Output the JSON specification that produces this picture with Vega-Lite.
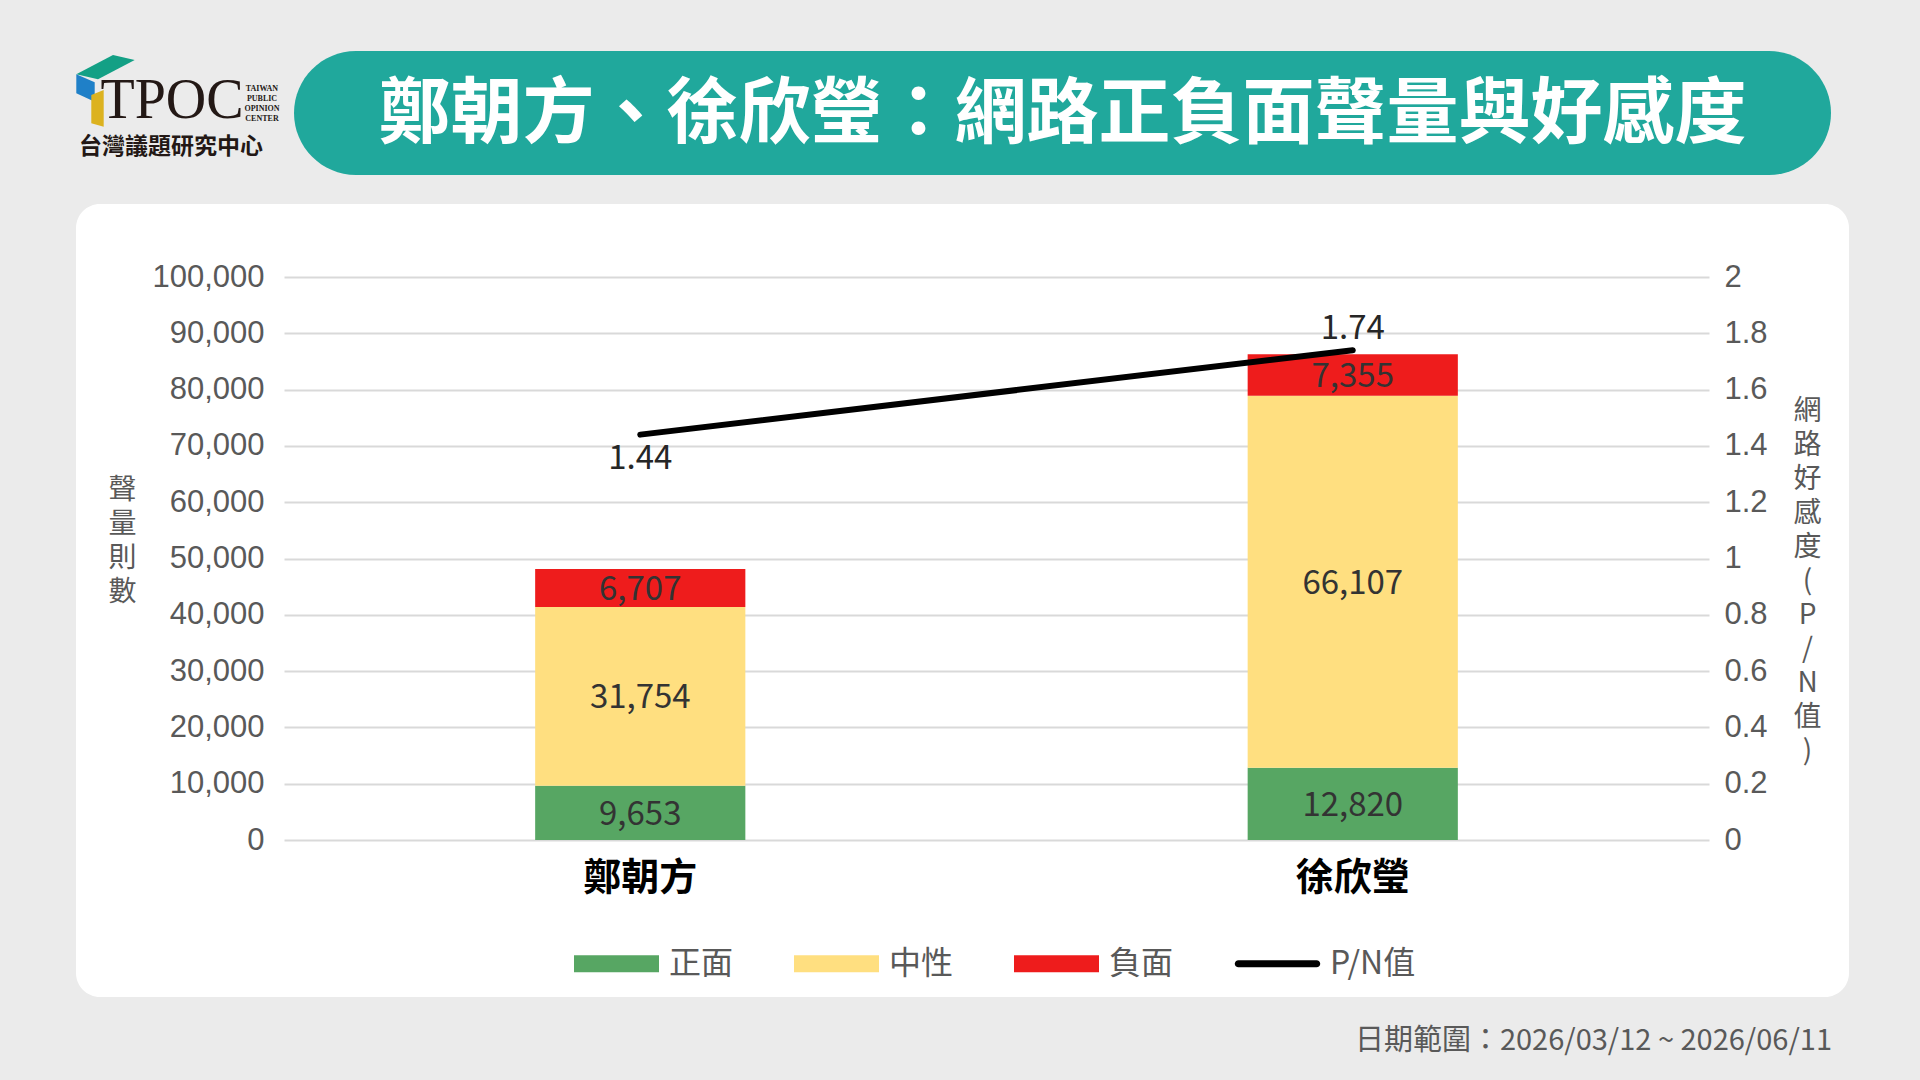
{
  "$schema": "https://vega.github.io/schema/vega-lite/v6.json",
  "background": "#ebebeb",
  "padding": {"left": 76, "top": 51, "right": 71, "bottom": 25},
  "autosize": {"type": "pad"},
  "spacing": 29,
  "datasets": {
    "bars": [
      {"name": "鄭朝方", "type": "正面", "count": 9653, "ord": 1},
      {"name": "鄭朝方", "type": "中性", "count": 31754, "ord": 2},
      {"name": "鄭朝方", "type": "負面", "count": 6707, "ord": 3},
      {"name": "徐欣瑩", "type": "正面", "count": 12820, "ord": 1},
      {"name": "徐欣瑩", "type": "中性", "count": 66107, "ord": 2},
      {"name": "徐欣瑩", "type": "負面", "count": 7355, "ord": 3}
    ],
    "pn": [
      {"name": "鄭朝方", "pn": 1.44},
      {"name": "徐欣瑩", "pn": 1.74}
    ],
    "one": [{"k": 1}]
  },
  "vconcat": [
    {
      "bounds": "flush",
      "spacing": 18,
      "hconcat": [
        {
          "width": 200,
          "height": 124,
          "view": {"stroke": null, "fill": null},
          "data": {"name": "one"},
          "layer": [
            {"mark": {"type": "point", "shape": "M-0.997,-0.387L-0.63,-0.58L-0.413,-0.53L-0.78,-0.337Z", "size": 40000, "filled": true, "color": "#13a085", "opacity": 1, "strokeWidth": 0}},
            {"mark": {"type": "point", "shape": "M-0.997,-0.387L-0.813,-0.307L-0.813,-0.113L-0.997,-0.197Z", "size": 40000, "filled": true, "color": "#1f80c8", "opacity": 1, "strokeWidth": 0}},
            {"mark": {"type": "point", "shape": "M-0.847,-0.18L-0.723,-0.23L-0.723,0.137L-0.847,0.103Z", "size": 40000, "filled": true, "color": "#dcb21f", "opacity": 1, "strokeWidth": 0}},
            {"mark": {"type": "text", "text": "TPOC", "font": "Liberation Serif", "fontSize": 56, "color": "#231815", "align": "center", "baseline": "alphabetic", "dx": -4, "dy": 5}},
            {"mark": {"type": "text", "text": ["TAIWAN", "PUBLIC", "OPINION", "CENTER"], "font": "Liberation Serif", "fontWeight": "bold", "fontSize": 8, "lineHeight": 10, "color": "#231815", "align": "center", "baseline": "middle", "dx": 86, "dy": -24}},
            {"mark": {"type": "text", "text": "台灣議題研究中心", "font": "Noto Sans CJK TC", "fontWeight": "bold", "fontSize": 23, "color": "#231815", "align": "center", "baseline": "middle", "dx": -5, "dy": 34}}
          ]
        },
        {
          "width": 1537,
          "height": 124,
          "view": {"stroke": null, "fill": "#20a89c", "cornerRadius": 62},
          "data": {"name": "one"},
          "mark": {"type": "text", "text": "鄭朝方、徐欣瑩：網路正負面聲量與好感度", "font": "Noto Sans CJK TC", "fontWeight": "bold", "fontSize": 72, "color": "#ffffff", "align": "center", "baseline": "middle", "dy": 2}
        }
      ]
    },
    {
      "width": 1773,
      "height": 793,
      "view": {"stroke": null, "fill": "#ffffff", "cornerRadius": 24},
      "title": {
        "text": "日期範圍：2026/03/12 ~ 2026/06/11",
        "orient": "bottom",
        "anchor": "end",
        "frame": "group",
        "dx": -17,
        "offset": 30,
        "font": "Noto Sans CJK TC",
        "fontSize": 29,
        "fontWeight": "normal",
        "color": "#595959"
      },
      "resolve": {"scale": {"y": "independent"}, "axis": {"y": "independent"}},
      "layer": [
        {
          "data": {"name": "bars"},
          "encoding": {
            "x": {
              "field": "name",
              "type": "nominal",
              "sort": ["鄭朝方", "徐欣瑩"],
              "scale": {"range": [208, 1633], "paddingInner": 0.705, "paddingOuter": 0.3525},
              "axis": {
                "title": null,
                "domain": false,
                "ticks": false,
                "labelAngle": 0,
                "labelFont": "Noto Sans CJK TC",
                "labelFontSize": 38,
                "labelFontWeight": "bold",
                "labelColor": "#000000",
                "labelPadding": 19,
                "offset": -157
              }
            },
            "y": {
              "field": "count",
              "type": "quantitative",
              "stack": "zero",
              "scale": {"domain": [0, 100000], "range": [636, 73], "nice": false},
              "axis": {
                "title": ["聲", "量", "則", "數"],
                "titleAngle": 0,
                "titleX": -162,
                "titleY": 286,
                "titleAlign": "center",
                "titleBaseline": "middle",
                "titleFont": "Noto Sans CJK TC",
                "titleFontSize": 28,
                "titleFontWeight": "normal",
                "titleColor": "#595959",
                "titleLineHeight": 34,
                "values": [0, 10000, 20000, 30000, 40000, 50000, 60000, 70000, 80000, 90000, 100000],
                "format": ",d",
                "labelFont": "Liberation Sans",
                "labelFontSize": 31,
                "labelColor": "#595959",
                "labelPadding": 20,
                "domain": false,
                "ticks": false,
                "grid": true,
                "gridColor": "#d9d9d9",
                "gridWidth": 2,
                "offset": -208
              }
            },
            "order": {"field": "ord", "type": "quantitative"}
          },
          "layer": [
            {
              "mark": {"type": "bar"},
              "encoding": {
                "color": {
                  "field": "type",
                  "type": "nominal",
                  "scale": {"domain": ["正面", "中性", "負面", "P/N值"], "range": ["#57a663", "#ffdf80", "#ee1c1c", "#000000"]},
                  "legend": {
                    "orient": "none",
                    "legendX": 498,
                    "legendY": 870,
                    "direction": "horizontal",
                    "title": null,
                    "padding": 0,
                    "labelFont": "Noto Sans CJK TC",
                    "labelFontSize": 32,
                    "labelColor": "#595959",
                    "labelOffset": 10,
                    "columnPadding": 60,
                    "symbolSize": 7225,
                    "symbolStrokeWidth": 0,
                    "encode": {
                      "symbols": {
                        "update": {
                          "shape": {"signal": "datum.value === 'P/N值' ? 'M-0.92,-0.085H0.92A0.085,0.085 0 0 1 0.92,0.085H-0.92A0.085,0.085 0 0 1 -0.92,-0.085Z' : 'M-1,-0.2H1V0.2H-1Z'"},
                          "fill": {"scale": "color", "field": "value"},
                          "stroke": {"value": "transparent"},
                          "strokeWidth": {"value": 0},
                          "size": {"value": 7225},
                          "opacity": {"value": 1}
                        }
                      }
                    }
                  }
                }
              }
            },
            {
              "mark": {"type": "text", "font": "Noto Sans CJK TC", "fontSize": 33, "color": "#333333", "baseline": "middle", "dy": 2},
              "encoding": {
                "y": {"field": "count", "type": "quantitative", "stack": "zero", "bandPosition": 0.5},
                "detail": {"field": "type", "type": "nominal"},
                "text": {"field": "count", "type": "quantitative", "format": ","}
              }
            }
          ]
        },
        {
          "data": {"name": "pn"},
          "encoding": {
            "x": {"field": "name", "type": "nominal", "sort": ["鄭朝方", "徐欣瑩"]},
            "y": {
              "field": "pn",
              "type": "quantitative",
              "scale": {"domain": [0, 2], "range": [636, 73], "nice": false},
              "axis": {
                "orient": "right",
                "title": ["網", "路", "好", "感", "度", "(", "P", "/", "N", "值", ")"],
                "titleAngle": 0,
                "titleX": 98,
                "titleY": 207,
                "titleAlign": "center",
                "titleBaseline": "middle",
                "titleFont": "Noto Sans CJK TC",
                "titleFontSize": 28,
                "titleFontWeight": "normal",
                "titleColor": "#595959",
                "titleLineHeight": 34,
                "values": [0, 0.2, 0.4, 0.6, 0.8, 1, 1.2, 1.4, 1.6, 1.8, 2],
                "format": "~g",
                "labelFont": "Liberation Sans",
                "labelFontSize": 31,
                "labelColor": "#595959",
                "labelPadding": 15,
                "domain": false,
                "ticks": false,
                "grid": false,
                "offset": -140
              }
            }
          },
          "layer": [
            {
              "mark": {"type": "line", "strokeWidth": 6, "strokeCap": "round"},
              "encoding": {"color": {"datum": "P/N值"}}
            },
            {
              "transform": [{"filter": "datum.name === '鄭朝方'"}],
              "mark": {"type": "text", "font": "Noto Sans CJK TC", "fontSize": 33, "color": "#262626", "baseline": "middle", "dy": 24},
              "encoding": {"text": {"field": "pn", "type": "quantitative", "format": ".2f"}}
            },
            {
              "transform": [{"filter": "datum.name === '徐欣瑩'"}],
              "mark": {"type": "text", "font": "Noto Sans CJK TC", "fontSize": 33, "color": "#262626", "baseline": "middle", "dy": -21},
              "encoding": {"text": {"field": "pn", "type": "quantitative", "format": ".2f"}}
            }
          ]
        }
      ]
    }
  ],
  "config": {"view": {"stroke": null}}
}
